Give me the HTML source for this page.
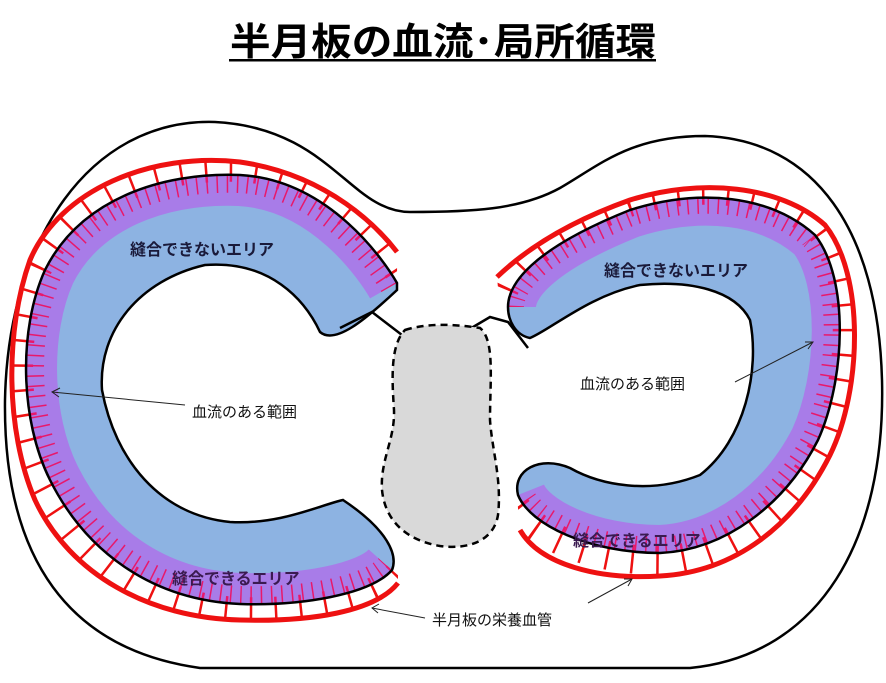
<!DOCTYPE html>
<html><head><meta charset="utf-8"><style>
html,body{margin:0;padding:0;background:#fff;}
svg{display:block;}
text{font-family:"Liberation Sans","Noto Sans CJK JP",sans-serif;}
</style></head><body>
<svg width="886" height="683" viewBox="0 0 886 683" xmlns="http://www.w3.org/2000/svg">
<defs>
<path id="Lp" d="M397,283 C385,262 330,180 240,175 C160,172 80,200 45,270 C18,330 20,420 50,480 C85,550 150,600 240,604 C300,606 370,595 392,570 C398,555 388,530 343,500 C320,505 280,525 230,522 C160,515 115,460 102,390 C98,330 140,280 205,265 C270,260 305,300 320,332 C335,345 365,320 397,290 Z"/>
<path id="Rp" d="M508,307 C508,285 530,250 630,210 C700,188 770,195 815,235 C850,280 845,380 818,440 C785,505 725,550 660,553 C590,553 530,525 518,495 C512,470 540,455 570,468 C600,485 650,495 700,475 C745,440 760,370 750,320 C735,290 690,280 640,285 C590,295 550,330 530,338 C515,335 508,320 508,307 Z"/>
<path id="Lo" d="M397,283 C385,262 330,180 240,175 C160,172 80,200 45,270 C18,330 20,420 50,480 C85,550 150,600 240,604 C300,606 370,595 392,570"/>
<path id="Ro" d="M508,307 C508,285 530,250 630,210 C700,188 770,195 815,235 C850,280 845,380 818,440 C785,505 725,550 660,553 C590,553 530,525 518,495"/>
<path id="Lr" d="M397,252 C380,230 330,175 240,162 C150,152 60,190 30,260 C5,330 5,430 35,500 C70,575 150,618 240,620 C310,622 375,612 398,583"/>
<path id="Rr" d="M497,277 C520,255 560,225 630,200 C700,178 780,185 825,225 C865,275 862,390 830,455 C795,525 735,572 660,576 C600,580 540,565 520,530"/>
<clipPath id="cl"><use href="#Lp"/></clipPath>
<clipPath id="cr"><use href="#Rp"/></clipPath>
<clipPath id="tl"><path d="M397,252 C380,230 330,175 240,162 C150,152 60,190 30,260 C5,330 5,430 35,500 C70,575 150,618 240,620 C310,622 375,612 398,583 Z"/></clipPath>
<clipPath id="tr"><path d="M497,277 C520,255 560,225 630,200 C700,178 780,185 825,225 C865,275 862,390 830,455 C795,525 735,572 660,576 C600,580 540,565 520,530 Z"/></clipPath>
</defs>
<text x="443" y="55" font-size="38" font-weight="bold" text-anchor="middle" textLength="426" lengthAdjust="spacingAndGlyphs">半月板の血流･局所循環</text>
<rect x="229" y="59" width="427" height="2.5" fill="#000"/>
<path d="M410,212 C350,212 330,128 215,122 C90,118 8,240 5,400 C3,560 70,650 200,668 L690,668 C820,655 886,540 882,380 C878,230 815,140 705,136 C630,136 600,165 560,188 C520,210 470,212 410,212 Z" fill="#fff" stroke="#000" stroke-width="2.5"/>
<g fill="none" stroke="#ee1111" stroke-width="44" stroke-dasharray="2.5 22">
<use href="#Lo" stroke-dashoffset="-10" clip-path="url(#tl)"/>
<use href="#Ro" stroke-dashoffset="-40" clip-path="url(#tr)"/>
</g>
<use href="#Lp" fill="#8db3e2"/>
<g clip-path="url(#cl)" fill="none">
<use href="#Lo" stroke="#a87ce8" stroke-width="62"/>
<use href="#Lo" stroke="#e8186b" stroke-width="36" stroke-dasharray="1.5 9"/>
<use href="#Lo" stroke="#e8186b" stroke-width="14" stroke-dasharray="2.5 22" stroke-dashoffset="-10"/>
</g>
<use href="#Lp" fill="none" stroke="#000" stroke-width="2.5"/>
<use href="#Lr" fill="none" stroke="#ee1111" stroke-width="5"/>
<use href="#Rp" fill="#8db3e2"/>
<g clip-path="url(#cr)" fill="none">
<use href="#Ro" stroke="#a87ce8" stroke-width="56"/>
<use href="#Ro" stroke="#e8186b" stroke-width="32" stroke-dasharray="1.5 9"/>
<use href="#Ro" stroke="#e8186b" stroke-width="14" stroke-dasharray="2.5 22" stroke-dashoffset="-40"/>
</g>
<use href="#Rp" fill="none" stroke="#000" stroke-width="2.5"/>
<use href="#Rr" fill="none" stroke="#ee1111" stroke-width="5"/>
<path d="M340,328 L372,312 L402,335" fill="none" stroke="#000" stroke-width="2.5"/>
<path d="M468,330 L490,317 L508,322 L528,348" fill="none" stroke="#000" stroke-width="2.5"/>
<path d="M405,330 C430,322 460,325 480,328 C495,340 490,380 490,420 C492,450 502,480 498,515 C494,540 470,550 440,546 C405,540 385,520 382,490 C380,460 395,440 394,410 C392,380 390,345 405,330 Z" fill="#d9d9d9" stroke="#000" stroke-width="2.5" stroke-dasharray="7 5"/>
<g font-size="16" font-weight="bold" fill="#1a1a3a">
<text x="130" y="255">縫合できないエリア</text>
<text x="604" y="276">縫合できないエリア</text>
<text x="172" y="584" fill="#3a1a50">縫合できるエリア</text>
<text x="573" y="546" fill="#3a1a50">縫合できるエリア</text>
</g>
<g font-size="15" fill="#111">
<text x="192" y="417">血流のある範囲</text>
<text x="580" y="389">血流のある範囲</text>
<text x="432" y="625">半月板の栄養血管</text>
</g>
<g stroke="#222" stroke-width="1" fill="none">
<path d="M185,405 L52,392"/><path d="M60,388 L52,392 L59,397"/>
<path d="M735,382 L813,342"/><path d="M805,342 L813,342 L808,349"/>
<path d="M425,618 L372,608"/><path d="M379,604 L372,608 L378,613"/>
<path d="M588,603 L632,579"/><path d="M624,579 L632,579 L628,586"/>
</g>
</svg>
</body></html>
